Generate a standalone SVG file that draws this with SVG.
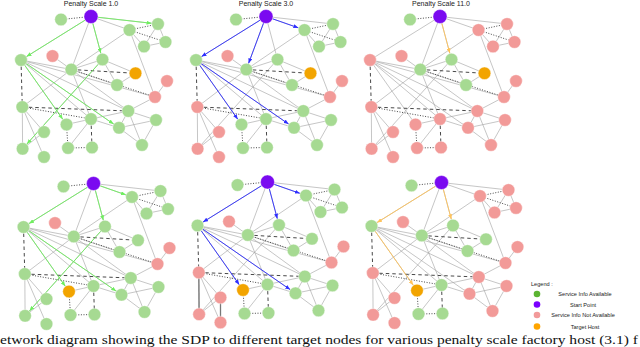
<svg xmlns="http://www.w3.org/2000/svg" xmlns:xlink="http://www.w3.org/1999/xlink" width="640" height="347" viewBox="0 0 640 347">
<style>
.e{stroke:#a0a0a0;stroke-width:0.6;fill:none}
.d{stroke:#333;stroke-width:0.9;stroke-dasharray:1 1.6;fill:none}
.k{stroke:#333;stroke-width:0.9;stroke-dasharray:3.5 3;fill:none}
.dk{stroke:#777;stroke-width:1.3;fill:none}
.g{fill:#a6da92}
.r{fill:#f29a98}
.s{fill:#7a0af0}
.t{fill:#f2a400}
.n circle{stroke:#ffffff;stroke-width:0.4}
.pg{stroke:#6fee5f;stroke-width:0.9;fill:none;marker-end:url(#ag)}
.pb{stroke:#2d2dff;stroke-width:0.9;fill:none;marker-end:url(#ab)}
.po{stroke:#ffc35a;stroke-width:0.9;fill:none;marker-end:url(#ao)}
.title{font-family:"Liberation Sans",Arial,sans-serif;font-size:7px;fill:#222;text-anchor:middle}
.lg{font-family:"Liberation Sans",Arial,sans-serif;font-size:5.6px;fill:#222}
.lc{text-anchor:middle}
.cap{font-family:"Liberation Serif","Times New Roman",serif;font-size:13.5px;fill:#111}
</style>
<defs>
<marker id="ag" markerUnits="userSpaceOnUse" markerWidth="5" markerHeight="4" refX="5" refY="2" orient="auto"><path d="M0,0 L5,2 L0,4 z" fill="#6fee5f"/></marker>
<marker id="ab" markerUnits="userSpaceOnUse" markerWidth="5" markerHeight="4" refX="5" refY="2" orient="auto"><path d="M0,0 L5,2 L0,4 z" fill="#2d2dff"/></marker>
<marker id="ao" markerUnits="userSpaceOnUse" markerWidth="5" markerHeight="4" refX="5" refY="2" orient="auto"><path d="M0,0 L5,2 L0,4 z" fill="#ffc35a"/></marker>
<g id="base-edges">
<line class="e" x1="91" y1="16.5" x2="129.5" y2="30"/>
<line class="e" x1="91" y1="16.5" x2="158" y2="24"/>
<line class="e" x1="91" y1="16.5" x2="21" y2="60"/>
<line class="e" x1="91" y1="16.5" x2="102.5" y2="59.5"/>
<line class="e" x1="91" y1="16.5" x2="71.3" y2="69.5"/>
<line class="e" x1="129.5" y1="30" x2="144" y2="46.5"/>
<line class="e" x1="158" y1="24" x2="165.5" y2="42"/>
<line class="e" x1="158" y1="24" x2="144" y2="46.5"/>
<line class="e" x1="144" y1="46.5" x2="165.5" y2="42"/>
<line class="e" x1="129.5" y1="30" x2="155" y2="97"/>
<line class="e" x1="129.5" y1="30" x2="71.3" y2="69.5"/>
<line class="e" x1="21" y1="60" x2="71.3" y2="69.5"/>
<line class="e" x1="21" y1="60" x2="128.3" y2="111"/>
<line class="e" x1="21" y1="60" x2="91" y2="119"/>
<line class="e" x1="21" y1="60" x2="155" y2="97"/>
<line class="e" x1="21" y1="60" x2="66.5" y2="124.5"/>
<line class="e" x1="21" y1="60" x2="119" y2="127.8"/>
<line class="e" x1="52.5" y1="56" x2="71.3" y2="69.5"/>
<line class="e" x1="71.3" y1="69.5" x2="102.5" y2="59.5"/>
<line class="e" x1="71.3" y1="69.5" x2="117" y2="85"/>
<line class="e" x1="71.3" y1="69.5" x2="22.3" y2="107"/>
<line class="e" x1="71.3" y1="69.5" x2="91" y2="119"/>
<line class="e" x1="71.3" y1="69.5" x2="128.3" y2="111"/>
<line class="e" x1="102.5" y1="59.5" x2="135.5" y2="73.3"/>
<line class="e" x1="102.5" y1="59.5" x2="117" y2="85"/>
<line class="e" x1="135.5" y1="73.3" x2="117" y2="85"/>
<line class="e" x1="102.5" y1="59.5" x2="22.6" y2="148.8"/>
<line class="e" x1="167" y1="81" x2="155" y2="97"/>
<line class="e" x1="155" y1="97" x2="128.3" y2="111"/>
<line class="e" x1="22.3" y1="107" x2="44" y2="132"/>
<line class="e" x1="22.3" y1="107" x2="22.6" y2="148.8"/>
<line class="e" x1="22.3" y1="107" x2="44" y2="157"/>
<line class="e" x1="44" y1="132" x2="22.6" y2="148.8"/>
<line class="e" x1="91" y1="119" x2="128.3" y2="111"/>
<line class="e" x1="91" y1="119" x2="66.5" y2="124.5"/>
<line class="e" x1="91" y1="119" x2="119" y2="127.8"/>
<line class="e" x1="91" y1="119" x2="68" y2="148"/>
<line class="e" x1="128.3" y1="111" x2="119" y2="127.8"/>
<line class="e" x1="128.3" y1="111" x2="156" y2="120"/>
<line class="e" x1="128.3" y1="111" x2="142" y2="145"/>
<line class="e" x1="119" y1="127.8" x2="156" y2="120"/>
<line class="e" x1="156" y1="120" x2="142" y2="145"/>
<line class="e" x1="119" y1="127.8" x2="142" y2="145"/>
<line class="d" x1="61" y1="19.5" x2="91" y2="16.5"/>
<line class="d" x1="129.5" y1="30" x2="158" y2="24"/>
<line class="d" x1="129.5" y1="30" x2="165.5" y2="42"/>
<line class="d" x1="71.3" y1="69.5" x2="155" y2="97"/>
<line class="d" x1="22.3" y1="107" x2="91" y2="119"/>
<line class="d" x1="66.5" y1="124.5" x2="68" y2="148"/>
<line class="d" x1="68" y1="148" x2="92" y2="147.5"/>
<line class="k" x1="71.3" y1="69.5" x2="135.5" y2="73.3"/>
<line class="k" x1="21" y1="60" x2="22.3" y2="107"/>
<line class="k" x1="22.3" y1="107" x2="128.3" y2="111"/>
<line class="k" x1="91" y1="119" x2="92" y2="147.5"/>
</g>
</defs>

<text class="title" x="91" y="6">Penalty Scale 1.0</text>
<text class="title" x="266" y="6">Penalty Scale 3.0</text>
<text class="title" x="441" y="6">Penalty Scale 11.0</text>

<!-- Panel 1 -->
<g id="panel1" transform="translate(0,0)">
<g id="p1-connectors">
<use xlink:href="#base-edges" href="#base-edges"/>
<line class="pg" x1="97.96" y1="17.28" x2="151.54" y2="23.28"/>
<line class="pg" x1="85.06" y1="20.19" x2="26.52" y2="56.57"/>
<line class="pg" x1="92.81" y1="23.26" x2="100.82" y2="53.22"/>
<line class="pg" x1="24.75" y1="65.31" x2="62.75" y2="119.19"/>
<line class="pg" x1="26.35" y1="63.7" x2="113.65" y2="124.1"/>
<line class="pg" x1="98.17" y1="64.34" x2="26.93" y2="143.96"/>
</g>
<g class="n">
<g id="p1-A"><circle class="g" cx="61" cy="19.5" r="6.3"/></g>
<g id="p1-S"><circle class="s" cx="91" cy="16.5" r="7"/></g>
<g id="p1-B"><circle class="g" cx="129.5" cy="30" r="6.3"/></g>
<g id="p1-C"><circle class="g" cx="158" cy="24" r="6.3"/></g>
<g id="p1-D"><circle class="g" cx="165.5" cy="42" r="6.3"/></g>
<g id="p1-E"><circle class="g" cx="144" cy="46.5" r="6.3"/></g>
<g id="p1-F"><circle class="g" cx="21" cy="60" r="6.3"/></g>
<g id="p1-G"><circle class="r" cx="52.5" cy="56" r="6.3"/></g>
<g id="p1-H"><circle class="g" cx="102.5" cy="59.5" r="6.3"/></g>
<g id="p1-I"><circle class="g" cx="71.3" cy="69.5" r="6.3"/></g>
<g id="p1-T"><circle class="t" cx="135.5" cy="73.3" r="6.3"/></g>
<g id="p1-J"><circle class="g" cx="117" cy="85" r="6.3"/></g>
<g id="p1-K"><circle class="r" cx="167" cy="81" r="6.3"/></g>
<g id="p1-L"><circle class="r" cx="155" cy="97" r="6.3"/></g>
<g id="p1-M"><circle class="g" cx="22.3" cy="107" r="6.3"/></g>
<g id="p1-N"><circle class="g" cx="128.3" cy="111" r="6.3"/></g>
<g id="p1-O"><circle class="g" cx="91" cy="119" r="6.3"/></g>
<g id="p1-P"><circle class="g" cx="66.5" cy="124.5" r="6.3"/></g>
<g id="p1-Q"><circle class="g" cx="156" cy="120" r="6.3"/></g>
<g id="p1-R"><circle class="g" cx="119" cy="127.8" r="6.3"/></g>
<g id="p1-U"><circle class="g" cx="44" cy="132" r="6.3"/></g>
<g id="p1-V"><circle class="g" cx="22.6" cy="148.8" r="6.3"/></g>
<g id="p1-W"><circle class="g" cx="68" cy="148" r="6.3"/></g>
<g id="p1-X"><circle class="g" cx="92" cy="147.5" r="6.3"/></g>
<g id="p1-Y"><circle class="g" cx="44" cy="157" r="6.3"/></g>
<g id="p1-Z"><circle class="g" cx="142" cy="145" r="6.3"/></g>
</g>
</g>

<!-- Panel 2 -->
<g id="panel2" transform="translate(175,0)">
<g id="p2-connectors">
<use xlink:href="#base-edges" href="#base-edges"/>
<line class="pb" x1="97.61" y1="18.82" x2="123.37" y2="27.85"/>
<line class="pb" x1="85.06" y1="20.19" x2="26.52" y2="56.57"/>
<line class="pb" x1="88.56" y1="23.06" x2="73.56" y2="63.41"/>
<line class="pb" x1="24.75" y1="65.31" x2="62.75" y2="119.19"/>
<line class="pb" x1="26.35" y1="63.7" x2="113.65" y2="124.1"/>
</g>
<g class="n">
<g id="p2-A"><circle class="g" cx="61" cy="19.5" r="6.3"/></g>
<g id="p2-S"><circle class="s" cx="91" cy="16.5" r="7"/></g>
<g id="p2-B"><circle class="g" cx="129.5" cy="30" r="6.3"/></g>
<g id="p2-C"><circle class="g" cx="158" cy="24" r="6.3"/></g>
<g id="p2-D"><circle class="g" cx="165.5" cy="42" r="6.3"/></g>
<g id="p2-E"><circle class="g" cx="144" cy="46.5" r="6.3"/></g>
<g id="p2-F"><circle class="g" cx="21" cy="60" r="6.3"/></g>
<g id="p2-G"><circle class="r" cx="52.5" cy="56" r="6.3"/></g>
<g id="p2-H"><circle class="g" cx="102.5" cy="59.5" r="6.3"/></g>
<g id="p2-I"><circle class="g" cx="71.3" cy="69.5" r="6.3"/></g>
<g id="p2-T"><circle class="t" cx="135.5" cy="73.3" r="6.3"/></g>
<g id="p2-J"><circle class="g" cx="117" cy="85" r="6.3"/></g>
<g id="p2-K"><circle class="r" cx="167" cy="81" r="6.3"/></g>
<g id="p2-L"><circle class="r" cx="155" cy="97" r="6.3"/></g>
<g id="p2-M"><circle class="r" cx="22.3" cy="107" r="6.3"/></g>
<g id="p2-N"><circle class="g" cx="128.3" cy="111" r="6.3"/></g>
<g id="p2-O"><circle class="g" cx="91" cy="119" r="6.3"/></g>
<g id="p2-P"><circle class="g" cx="66.5" cy="124.5" r="6.3"/></g>
<g id="p2-Q"><circle class="g" cx="156" cy="120" r="6.3"/></g>
<g id="p2-R"><circle class="g" cx="119" cy="127.8" r="6.3"/></g>
<g id="p2-U"><circle class="r" cx="44" cy="132" r="6.3"/></g>
<g id="p2-V"><circle class="r" cx="22.6" cy="148.8" r="6.3"/></g>
<g id="p2-W"><circle class="g" cx="68" cy="148" r="6.3"/></g>
<g id="p2-X"><circle class="g" cx="92" cy="147.5" r="6.3"/></g>
<g id="p2-Y"><circle class="r" cx="44" cy="157" r="6.3"/></g>
<g id="p2-Z"><circle class="g" cx="142" cy="145" r="6.3"/></g>
</g>
</g>

<!-- Panel 3 -->
<g id="panel3" transform="translate(349,0)">
<g id="p3-connectors">
<use xlink:href="#base-edges" href="#base-edges"/>
<line class="po" x1="92.81" y1="23.26" x2="100.82" y2="53.22"/>
</g>
<g class="n">
<g id="p3-A"><circle class="g" cx="61" cy="19.5" r="6.3"/></g>
<g id="p3-S"><circle class="s" cx="91" cy="16.5" r="7"/></g>
<g id="p3-B"><circle class="r" cx="129.5" cy="30" r="6.3"/></g>
<g id="p3-C"><circle class="r" cx="158" cy="24" r="6.3"/></g>
<g id="p3-D"><circle class="r" cx="165.5" cy="42" r="6.3"/></g>
<g id="p3-E"><circle class="r" cx="144" cy="46.5" r="6.3"/></g>
<g id="p3-F"><circle class="r" cx="21" cy="60" r="6.3"/></g>
<g id="p3-G"><circle class="r" cx="52.5" cy="56" r="6.3"/></g>
<g id="p3-H"><circle class="g" cx="102.5" cy="59.5" r="6.3"/></g>
<g id="p3-I"><circle class="g" cx="71.3" cy="69.5" r="6.3"/></g>
<g id="p3-T"><circle class="t" cx="135.5" cy="73.3" r="6.3"/></g>
<g id="p3-J"><circle class="g" cx="117" cy="85" r="6.3"/></g>
<g id="p3-K"><circle class="r" cx="167" cy="81" r="6.3"/></g>
<g id="p3-L"><circle class="r" cx="155" cy="97" r="6.3"/></g>
<g id="p3-M"><circle class="r" cx="22.3" cy="107" r="6.3"/></g>
<g id="p3-N"><circle class="r" cx="128.3" cy="111" r="6.3"/></g>
<g id="p3-O"><circle class="r" cx="91" cy="119" r="6.3"/></g>
<g id="p3-P"><circle class="r" cx="66.5" cy="124.5" r="6.3"/></g>
<g id="p3-Q"><circle class="r" cx="156" cy="120" r="6.3"/></g>
<g id="p3-R"><circle class="r" cx="119" cy="127.8" r="6.3"/></g>
<g id="p3-U"><circle class="r" cx="44" cy="132" r="6.3"/></g>
<g id="p3-V"><circle class="r" cx="22.6" cy="148.8" r="6.3"/></g>
<g id="p3-W"><circle class="r" cx="68" cy="148" r="6.3"/></g>
<g id="p3-X"><circle class="r" cx="92" cy="147.5" r="6.3"/></g>
<g id="p3-Y"><circle class="r" cx="44" cy="157" r="6.3"/></g>
<g id="p3-Z"><circle class="r" cx="142" cy="145" r="6.3"/></g>
</g>
</g>

<!-- Panel 4 -->
<g id="panel4" transform="translate(2.5,167)">
<g id="p4-connectors">
<use xlink:href="#base-edges" href="#base-edges"/>
<line class="pg" x1="97.61" y1="18.82" x2="123.37" y2="27.85"/>
<line class="pg" x1="85.06" y1="20.19" x2="26.52" y2="56.57"/>
<line class="pg" x1="92.81" y1="23.26" x2="100.82" y2="53.22"/>
<line class="pg" x1="24.75" y1="65.31" x2="62.75" y2="119.19"/>
<line class="pg" x1="26.35" y1="63.7" x2="113.65" y2="124.1"/>
<line class="pg" x1="98.17" y1="64.34" x2="26.93" y2="143.96"/>
</g>
<g class="n">
<g id="p4-A"><circle class="g" cx="61" cy="19.5" r="6.3"/></g>
<g id="p4-S"><circle class="s" cx="91" cy="16.5" r="7"/></g>
<g id="p4-B"><circle class="g" cx="129.5" cy="30" r="6.3"/></g>
<g id="p4-C"><circle class="g" cx="158" cy="24" r="6.3"/></g>
<g id="p4-D"><circle class="g" cx="165.5" cy="42" r="6.3"/></g>
<g id="p4-E"><circle class="g" cx="144" cy="46.5" r="6.3"/></g>
<g id="p4-F"><circle class="g" cx="21" cy="60" r="6.3"/></g>
<g id="p4-G"><circle class="r" cx="52.5" cy="56" r="6.3"/></g>
<g id="p4-H"><circle class="g" cx="102.5" cy="59.5" r="6.3"/></g>
<g id="p4-I"><circle class="g" cx="71.3" cy="69.5" r="6.3"/></g>
<g id="p4-T"><circle class="g" cx="135.5" cy="73.3" r="6.3"/></g>
<g id="p4-J"><circle class="g" cx="117" cy="85" r="6.3"/></g>
<g id="p4-K"><circle class="r" cx="167" cy="81" r="6.3"/></g>
<g id="p4-L"><circle class="r" cx="155" cy="97" r="6.3"/></g>
<g id="p4-M"><circle class="g" cx="22.3" cy="107" r="6.3"/></g>
<g id="p4-N"><circle class="g" cx="128.3" cy="111" r="6.3"/></g>
<g id="p4-O"><circle class="g" cx="91" cy="119" r="6.3"/></g>
<g id="p4-P"><circle class="t" cx="66.5" cy="124.5" r="6.3"/></g>
<g id="p4-Q"><circle class="g" cx="156" cy="120" r="6.3"/></g>
<g id="p4-R"><circle class="g" cx="119" cy="127.8" r="6.3"/></g>
<g id="p4-U"><circle class="g" cx="44" cy="132" r="6.3"/></g>
<g id="p4-V"><circle class="g" cx="22.6" cy="148.8" r="6.3"/></g>
<g id="p4-W"><circle class="g" cx="68" cy="148" r="6.3"/></g>
<g id="p4-X"><circle class="g" cx="92" cy="147.5" r="6.3"/></g>
<g id="p4-Y"><circle class="g" cx="44" cy="157" r="6.3"/></g>
<g id="p4-Z"><circle class="g" cx="142" cy="145" r="6.3"/></g>
</g>
</g>

<!-- Panel 5 -->
<g id="panel5" transform="translate(176.5,165.5)">
<g id="p5-connectors">
<use xlink:href="#base-edges" href="#base-edges"/>
<line class="dk" x1="22.3" y1="107" x2="22.6" y2="148.8"/>
<line class="dk" x1="44" y1="132" x2="44" y2="157"/>
<line class="pb" x1="97.61" y1="18.82" x2="123.37" y2="27.85"/>
<line class="pb" x1="85.06" y1="20.19" x2="26.52" y2="56.57"/>
<line class="pb" x1="92.81" y1="23.26" x2="100.82" y2="53.22"/>
<line class="pb" x1="24.75" y1="65.31" x2="62.75" y2="119.19"/>
<line class="pb" x1="26.35" y1="63.7" x2="113.65" y2="124.1"/>
</g>
<g class="n">
<g id="p5-A"><circle class="g" cx="61" cy="19.5" r="6.3"/></g>
<g id="p5-S"><circle class="s" cx="91" cy="16.5" r="7"/></g>
<g id="p5-B"><circle class="g" cx="129.5" cy="30" r="6.3"/></g>
<g id="p5-C"><circle class="g" cx="158" cy="24" r="6.3"/></g>
<g id="p5-D"><circle class="g" cx="165.5" cy="42" r="6.3"/></g>
<g id="p5-E"><circle class="g" cx="144" cy="46.5" r="6.3"/></g>
<g id="p5-F"><circle class="g" cx="21" cy="60" r="6.3"/></g>
<g id="p5-G"><circle class="r" cx="52.5" cy="56" r="6.3"/></g>
<g id="p5-H"><circle class="g" cx="102.5" cy="59.5" r="6.3"/></g>
<g id="p5-I"><circle class="g" cx="71.3" cy="69.5" r="6.3"/></g>
<g id="p5-T"><circle class="g" cx="135.5" cy="73.3" r="6.3"/></g>
<g id="p5-J"><circle class="g" cx="117" cy="85" r="6.3"/></g>
<g id="p5-K"><circle class="r" cx="167" cy="81" r="6.3"/></g>
<g id="p5-L"><circle class="r" cx="155" cy="97" r="6.3"/></g>
<g id="p5-M"><circle class="r" cx="22.3" cy="107" r="6.3"/></g>
<g id="p5-N"><circle class="g" cx="128.3" cy="111" r="6.3"/></g>
<g id="p5-O"><circle class="g" cx="91" cy="119" r="6.3"/></g>
<g id="p5-P"><circle class="t" cx="66.5" cy="124.5" r="6.3"/></g>
<g id="p5-Q"><circle class="g" cx="156" cy="120" r="6.3"/></g>
<g id="p5-R"><circle class="g" cx="119" cy="127.8" r="6.3"/></g>
<g id="p5-U"><circle class="r" cx="44" cy="132" r="6.3"/></g>
<g id="p5-V"><circle class="r" cx="22.6" cy="148.8" r="6.3"/></g>
<g id="p5-W"><circle class="g" cx="68" cy="148" r="6.3"/></g>
<g id="p5-X"><circle class="g" cx="92" cy="147.5" r="6.3"/></g>
<g id="p5-Y"><circle class="r" cx="44" cy="157" r="6.3"/></g>
<g id="p5-Z"><circle class="g" cx="142" cy="145" r="6.3"/></g>
</g>
</g>

<!-- Panel 6 -->
<g id="panel6" transform="translate(350.5,166)">
<g id="p6-connectors">
<use xlink:href="#base-edges" href="#base-edges"/>
<line class="po" x1="85.06" y1="20.19" x2="26.52" y2="56.57"/>
<line class="po" x1="92.81" y1="23.26" x2="100.82" y2="53.22"/>
<line class="po" x1="24.75" y1="65.31" x2="62.75" y2="119.19"/>
</g>
<g class="n">
<g id="p6-A"><circle class="g" cx="61" cy="19.5" r="6.3"/></g>
<g id="p6-S"><circle class="s" cx="91" cy="16.5" r="7"/></g>
<g id="p6-B"><circle class="r" cx="129.5" cy="30" r="6.3"/></g>
<g id="p6-C"><circle class="r" cx="158" cy="24" r="6.3"/></g>
<g id="p6-D"><circle class="r" cx="165.5" cy="42" r="6.3"/></g>
<g id="p6-E"><circle class="r" cx="144" cy="46.5" r="6.3"/></g>
<g id="p6-F"><circle class="g" cx="21" cy="60" r="6.3"/></g>
<g id="p6-G"><circle class="r" cx="52.5" cy="56" r="6.3"/></g>
<g id="p6-H"><circle class="g" cx="102.5" cy="59.5" r="6.3"/></g>
<g id="p6-I"><circle class="g" cx="71.3" cy="69.5" r="6.3"/></g>
<g id="p6-T"><circle class="g" cx="135.5" cy="73.3" r="6.3"/></g>
<g id="p6-J"><circle class="g" cx="117" cy="85" r="6.3"/></g>
<g id="p6-K"><circle class="r" cx="167" cy="81" r="6.3"/></g>
<g id="p6-L"><circle class="r" cx="155" cy="97" r="6.3"/></g>
<g id="p6-M"><circle class="r" cx="22.3" cy="107" r="6.3"/></g>
<g id="p6-N"><circle class="r" cx="128.3" cy="111" r="6.3"/></g>
<g id="p6-O"><circle class="g" cx="91" cy="119" r="6.3"/></g>
<g id="p6-P"><circle class="t" cx="66.5" cy="124.5" r="6.3"/></g>
<g id="p6-Q"><circle class="r" cx="156" cy="120" r="6.3"/></g>
<g id="p6-R"><circle class="r" cx="119" cy="127.8" r="6.3"/></g>
<g id="p6-U"><circle class="r" cx="44" cy="132" r="6.3"/></g>
<g id="p6-V"><circle class="r" cx="22.6" cy="148.8" r="6.3"/></g>
<g id="p6-W"><circle class="g" cx="68" cy="148" r="6.3"/></g>
<g id="p6-X"><circle class="g" cx="92" cy="147.5" r="6.3"/></g>
<g id="p6-Y"><circle class="r" cx="44" cy="157" r="6.3"/></g>
<g id="p6-Z"><circle class="r" cx="142" cy="145" r="6.3"/></g>
</g>
</g>

<!-- Legend -->
<g id="legend">
<text class="lg" x="531" y="286">Legend :</text>
<circle cx="537" cy="294" r="3.3" fill="#5bb431"/>
<text class="lg lc" x="585" y="296">Service Info Available</text>
<circle cx="537" cy="304.5" r="3.3" fill="#7a00ff"/>
<text class="lg lc" x="583" y="306.5">Start Point</text>
<circle cx="537" cy="315" r="3.3" fill="#f29a9a"/>
<text class="lg lc" x="583" y="317">Service Info Not Available</text>
<circle cx="537" cy="326.5" r="3.3" fill="#ffa500"/>
<text class="lg lc" x="585" y="328.5">Target Host</text>
</g>

<text class="cap" x="0" y="343.5" textLength="638" lengthAdjust="spacingAndGlyphs">etwork diagram showing the SDP to different target nodes for various penalty scale factory host (3.1) f</text>
</svg>
